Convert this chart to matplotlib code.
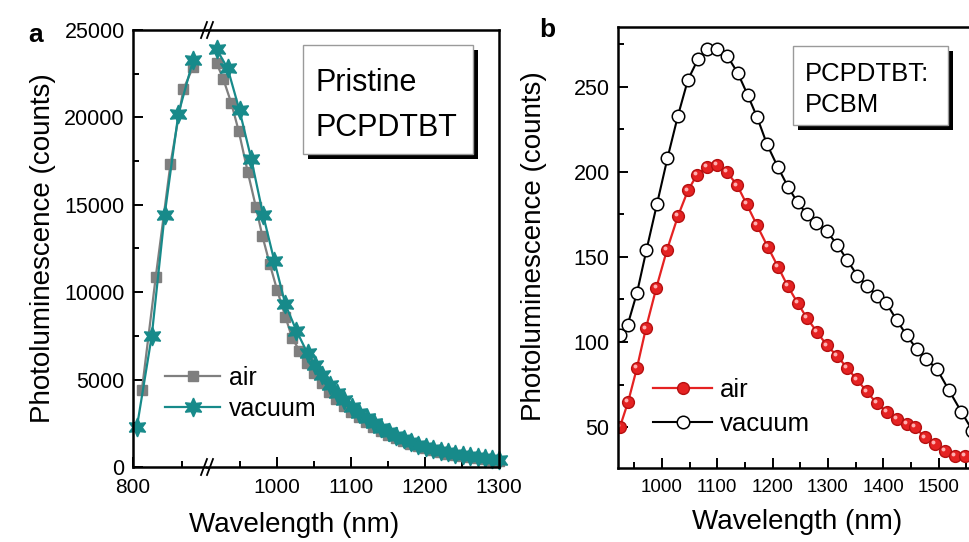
import matplotlib
matplotlib.use('Agg')
import matplotlib.pyplot as plt
from matplotlib.lines import Line2D
from matplotlib.patches import Rectangle
import matplotlib.transforms as mtransforms

plt.rcParams['font.family'] = ['Liberation Sans', 'DejaVu Sans']

# ---------------- data: panel a (pristine PCPDTBT) ----------------
# left segment of broken axis (800-875 nm)
a_air_x_left = [809, 823, 838, 851, 861]
a_air_y_left = [4400, 10850, 17350, 21600, 22900]
a_vac_x_left = [804, 819, 832, 846, 861]
a_vac_y_left = [2300, 7500, 14400, 20200, 23300]
# right segment of broken axis (905-1300 nm)
a_air_x_right = [918, 927, 938, 948, 960, 971, 980, 990, 1000, 1011,
                 1020, 1030, 1040, 1050, 1060, 1070, 1080, 1090, 1100, 1110,
                 1120, 1130, 1140, 1150, 1160, 1170, 1180, 1190, 1200, 1210,
                 1220, 1230, 1240, 1250, 1260, 1270, 1280, 1290, 1300]
a_air_y_right = [23100, 22200, 20800, 19200, 16900, 14900, 13200, 11600, 10100, 8600,
                 7400, 6650, 5950, 5350, 4800, 4300, 3900, 3500, 3150, 2850,
                 2550, 2300, 2050, 1850, 1650, 1480, 1320, 1180, 1060, 950,
                 850, 760, 690, 620, 560, 500, 450, 410, 370]
a_vac_x_right = [918, 933, 949, 965, 981, 996, 1011, 1026, 1041, 1051,
                 1061, 1071, 1081, 1091, 1101, 1111, 1121, 1131, 1141, 1151,
                 1161, 1171, 1181, 1191, 1201, 1211, 1221, 1231, 1241, 1251,
                 1261, 1271, 1281, 1291, 1300]
a_vac_y_right = [23900, 22800, 20400, 17600, 14400, 11800, 9300, 7800, 6500, 5850,
                 5250, 4700, 4250, 3850, 3450, 3100, 2800, 2500, 2250, 2000,
                 1800, 1600, 1430, 1280, 1150, 1030, 920, 830, 750, 680,
                 610, 550, 500, 450, 410]
a_xticks_left = [800]
a_xticks_right = [1000, 1100, 1200, 1300]
a_yticks = [0, 5000, 10000, 15000, 20000, 25000]

# ---------------- data: panel b (PCPDTBT:PCBM) ----------------
b_vac_x = [924, 938, 955, 972, 991, 1010, 1029, 1047, 1065, 1081,
           1099, 1118, 1137, 1155, 1172, 1190, 1209, 1228, 1245, 1262,
           1279, 1298, 1317, 1335, 1353, 1371, 1389, 1405, 1424, 1442,
           1460, 1478, 1497, 1518, 1541, 1561, 1580]
b_vac_y = [104, 110, 129, 154, 181, 208, 233, 254, 266, 272,
           272, 268, 258, 245, 232, 216, 203, 191, 182, 175,
           170, 165, 157, 148, 139, 133, 127, 123, 113, 104,
           96, 90, 84, 72, 59, 48, 38]
b_air_x = [924, 939, 955, 971, 990, 1009, 1029, 1047, 1063, 1081,
           1099, 1117, 1136, 1153, 1171, 1191, 1210, 1227, 1245, 1262,
           1280, 1298, 1316, 1334, 1352, 1370, 1388, 1406, 1424, 1442,
           1457, 1475, 1493, 1511, 1529, 1547, 1565]
b_air_y = [50, 65, 85, 108, 132, 154, 174, 189, 198, 203,
           204, 200, 192, 181, 169, 156, 144, 133, 123, 114,
           106, 98, 92, 85, 78, 71, 64, 59, 55, 52,
           50, 44, 40, 36, 33, 33, 34]
b_xticks = [1000, 1100, 1200, 1300, 1400, 1500]
b_yticks = [50, 100, 150, 200, 250]

# ---------------- styling ----------------
TEAL = '#178a8a'
GRAY = '#7f7f7f'
RED = '#e52222'
REDEDGE = '#b51010'

W, H = 970, 542
fig = plt.figure(figsize=(W / 100, H / 100), dpi=100)


def fx(px):
    return px / W


def fy(py):
    return 1 - py / H


def style_axis(ax, xsize, ysize):
    ax.tick_params(axis='both', which='both', direction='in', top=False, right=False,
                   width=1.4)
    ax.tick_params(axis='both', which='major', length=7)
    ax.tick_params(axis='both', which='minor', length=4)
    ax.tick_params(axis='x', labelsize=xsize, pad=8)
    ax.tick_params(axis='y', labelsize=ysize, pad=6)
    for s in ax.spines.values():
        s.set_linewidth(1.8)


# ---------------- panel a ----------------
y0a, y1a = 467, 30
axL = fig.add_axes([fx(133), fy(y0a), fx(207) - fx(133), fy(y1a) - fy(y0a)])
axR = fig.add_axes([fx(207), fy(y0a), fx(499) - fx(207), fy(y1a) - fy(y0a)], sharey=axL)

air_kw = dict(color=GRAY, lw=1.6, marker='s', ms=7.5, mfc=GRAY, mec=GRAY)
vac_kw = dict(color=TEAL, lw=1.6, marker=(6, 1, 0), ms=13.5, mfc=TEAL, mec=TEAL, mew=1.0)

for ax in (axL, axR):
    style_axis(ax, 15, 15.5)

axL.plot(a_air_x_left, a_air_y_left, **air_kw)
axL.plot(a_vac_x_left, a_vac_y_left, **vac_kw)
h_air_a, = axR.plot(a_air_x_right, a_air_y_right, **air_kw)
h_vac_a, = axR.plot(a_vac_x_right, a_vac_y_right, **vac_kw)
for ln in axL.lines + axR.lines:
    ln.set_clip_on(False)

axL.set_xlim(800, 875)
axR.set_xlim(905, 1300)
axL.set_ylim(0, 25000)
axL.set_xticks(a_xticks_left)
axL.set_xticks([850], minor=True)
axR.set_xticks(a_xticks_right)
axR.set_xticks([950, 1050, 1150, 1250], minor=True)
axL.set_yticks(a_yticks)
axL.set_yticks([2500, 7500, 12500, 17500, 22500], minor=True)
axR.tick_params(axis='y', which='both', left=False, labelleft=False)
axL.spines['right'].set_visible(False)
axR.spines['left'].set_visible(False)

# break marks //
for ys in (y0a, y1a):
    for dx in (-3, 3):
        xc = 207 + dx
        fig.add_artist(Line2D([fx(xc - 3), fx(xc + 3)], [fy(ys + 8), fy(ys - 8)],
                              color='black', lw=1.3, transform=fig.transFigure))

fig.legend([h_air_a, h_vac_a], ['air', 'vacuum'], loc='upper left',
           bbox_to_anchor=(fx(165), fy(366)), bbox_transform=fig.transFigure,
           frameon=False, borderpad=0, borderaxespad=0, fontsize=18,
           handlelength=2.2, handletextpad=0.35, labelspacing=0.28, numpoints=1)

# text box a
fig.add_artist(Rectangle((fx(308), fy(159)), fx(478) - fx(308), fy(50) - fy(159),
                         transform=fig.transFigure, facecolor='black', edgecolor='none'))
fig.add_artist(Rectangle((fx(303), fy(154)), fx(473) - fx(303), fy(45) - fy(154),
                         transform=fig.transFigure, facecolor='white', edgecolor='#9a9a9a', lw=1))
fig.text(fx(315), fy(91), 'Pristine', fontsize=22, ha='left', va='baseline')
fig.text(fx(315), fy(136), 'PCPDTBT', fontsize=22, ha='left', va='baseline')

fig.text(fx(43), fy(248), 'Photoluminescence (counts)', rotation=90, fontsize=20,
         ha='center', va='center')
fig.text(fx(294), fy(525), 'Wavelength (nm)', fontsize=20, ha='center', va='center')
fig.text(fx(36), fy(35), 'a', fontsize=19, weight='bold', ha='center', va='center')

# ---------------- panel b ----------------
y0b, y1b = 468, 27
axb = fig.add_axes([fx(618), fy(y0b), fx(994) - fx(618), fy(y1b) - fy(y0b)])
style_axis(axb, 13.5, 15.5)
h_vac_b, = axb.plot(b_vac_x, b_vac_y, color='black', lw=1.5, marker='o', ms=9,
                    mfc='white', mec='black', mew=1.1)
h_air_b, = axb.plot(b_air_x, b_air_y, color=RED, lw=1.6, marker='o', ms=8.5,
                    mfc=RED, mec=REDEDGE, mew=1.0)
hl = mtransforms.offset_copy(axb.transData, fig=fig, x=-1.3, y=1.3, units='points')
axb.plot(b_air_x, b_air_y, ls='none', marker='o', ms=2.8, mfc='#ffb0b0', mec='none',
         transform=hl)
axb.set_xlim(920.6, 1600)
axb.set_ylim(26, 285)
axb.set_xticks(b_xticks)
axb.set_xticks([950, 1050, 1150, 1250, 1350, 1450, 1550], minor=True)
axb.set_yticks(b_yticks)
axb.set_yticks([75, 125, 175, 225, 275], minor=True)

fig.legend([h_air_b, h_vac_b], ['air', 'vacuum'], loc='upper left',
           bbox_to_anchor=(fx(653), fy(378)), bbox_transform=fig.transFigure,
           frameon=False, borderpad=0, borderaxespad=0, fontsize=18.5,
           handlelength=2.3, handletextpad=0.3, labelspacing=0.4, numpoints=1)

fig.add_artist(Rectangle((fx(798), fy(130)), fx(953) - fx(798), fy(51) - fy(130),
                         transform=fig.transFigure, facecolor='black', edgecolor='none'))
fig.add_artist(Rectangle((fx(793), fy(125)), fx(948) - fx(793), fy(46) - fy(125),
                         transform=fig.transFigure, facecolor='white', edgecolor='#9a9a9a', lw=1))
fig.text(fx(805), fy(81), 'PCPDTBT:', fontsize=18.5, ha='left', va='baseline')
fig.text(fx(805), fy(112), 'PCBM', fontsize=18.5, ha='left', va='baseline')

fig.text(fx(534), fy(246), 'Photoluminescence (counts)', rotation=90, fontsize=20,
         ha='center', va='center')
fig.text(fx(797), fy(522), 'Wavelength (nm)', fontsize=20, ha='center', va='center')
fig.text(fx(547), fy(30), 'b', fontsize=19, weight='bold', ha='center', va='center')

fig.savefig('out.png', dpi=100)
